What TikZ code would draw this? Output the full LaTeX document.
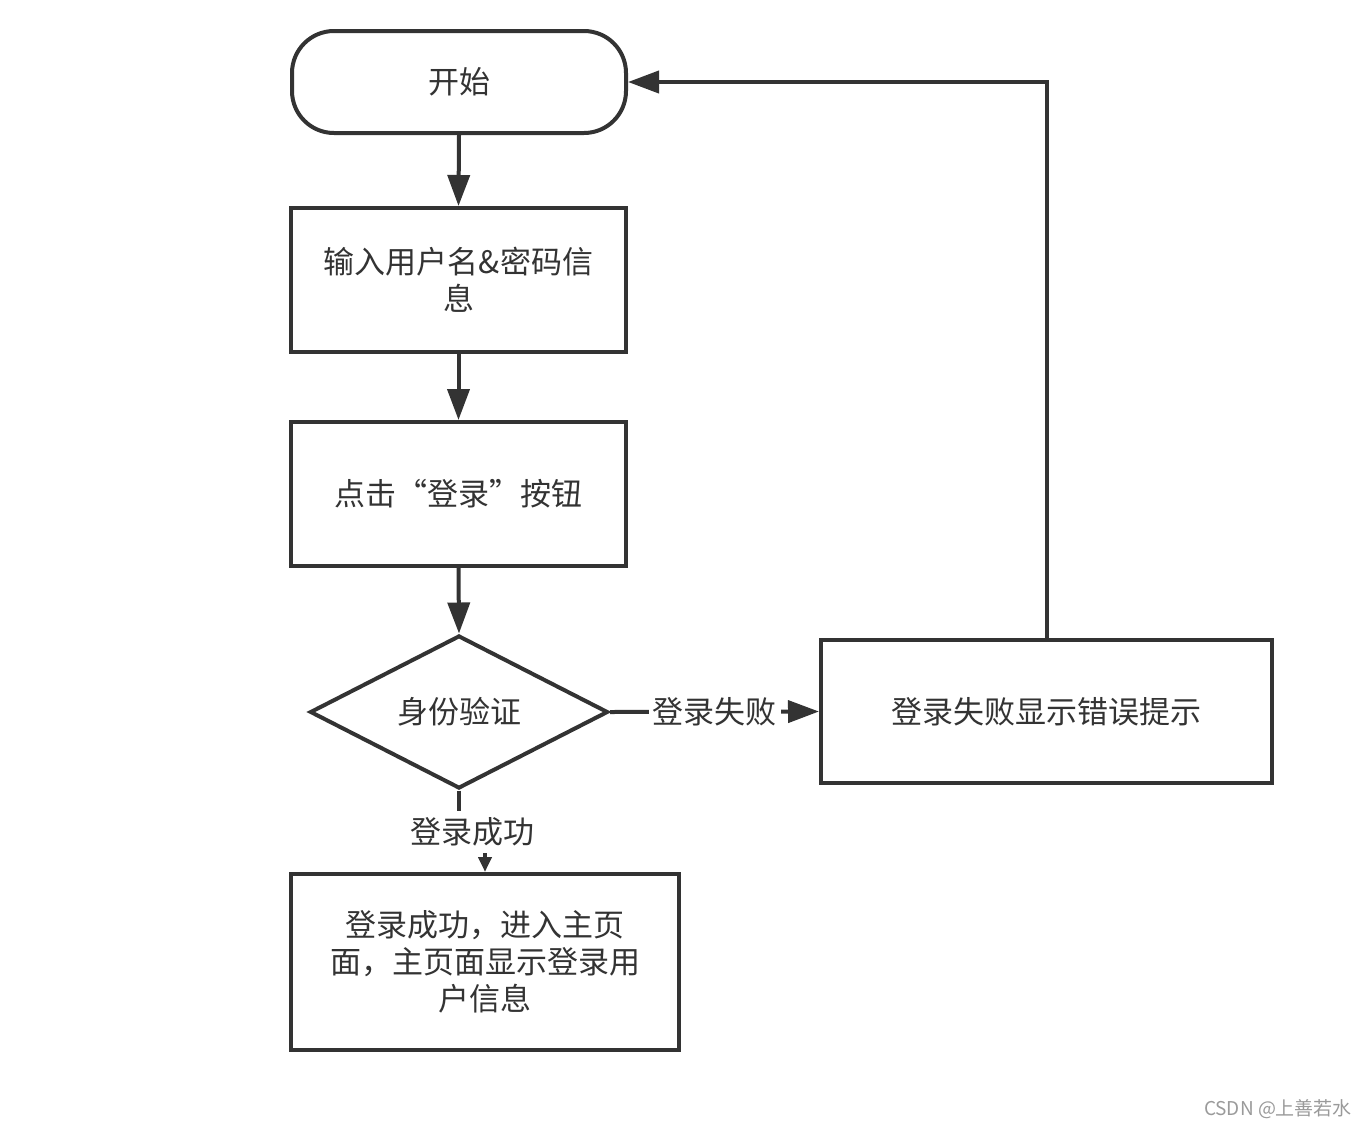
\documentclass[tikz,border=0pt]{standalone}
\usepackage{fontspec}
\setmainfont{Noto Sans CJK SC}
\usetikzlibrary{shapes.geometric,arrows.meta,calc}
\definecolor{ink}{HTML}{333333}
\definecolor{mark}{HTML}{9A9A9A}

\begin{document}
\begin{tikzpicture}[x=1pt, y=-1pt,
    box/.style={draw=ink, line width=4pt, text=ink, align=center, inner sep=0pt,
      font=\fontsize{31}{37}\selectfont},
    arr/.style={draw=ink, line width=4pt, -{Triangle[length=31pt,width=22pt]}},
    smallarr/.style={draw=ink, line width=4pt, -{Triangle[length=15pt,width=13pt]}},
    lbl/.style={fill=white, text=ink, inner xsep=4pt, inner ysep=7pt, font=\fontsize{31}{37}\selectfont}]
    \useasboundingbox (0,0) rectangle (1369,1128);

    % Boxes
    \node[box, rounded corners=42pt, minimum width=334pt, minimum height=102pt] (start) at (459,82) {开始};
    \node[box, minimum width=335pt, minimum height=144pt] (input) at (458.5,280) {输入用户名\&密码信\\息};
    \node[box, minimum width=335pt, minimum height=144pt] (click) at (458.5,494) {点击“登录”按钮};
    \node[box, diamond, minimum width=298pt, minimum height=138pt] (verify) at (459,712) {身份验证};
    \node[box, minimum width=451pt, minimum height=143pt] (fail) at (1046.5,711.5) {登录失败显示错误提示};
    \node[box, minimum width=388pt, minimum height=176pt] (ok) at (485,962) {登录成功，进入主页\\面，主页面显示登录用\\户信息};

    % Connectors
    \draw[arr] (start.south) -- (input.north);
    \draw[arr] (input.south) -- (click.north);
    \draw[arr] (click.south) -- (verify.north);
    \draw[arr] (verify.east) -- node[lbl] {登录失败} (fail.west);
    \draw[arr] (fail.north) |- (start.east);
    \coordinate (bend) at (459,832);
    \draw[smallarr] (verify.south) -- (bend) -| node[lbl, pos=0.25] {登录成功} (ok.north);

    % Watermark
    \node[text=mark, font=\fontsize{19}{22}\selectfont] (wm) at (1278,1109) {CSDN @上善若水};
\end{tikzpicture}
\end{document}
